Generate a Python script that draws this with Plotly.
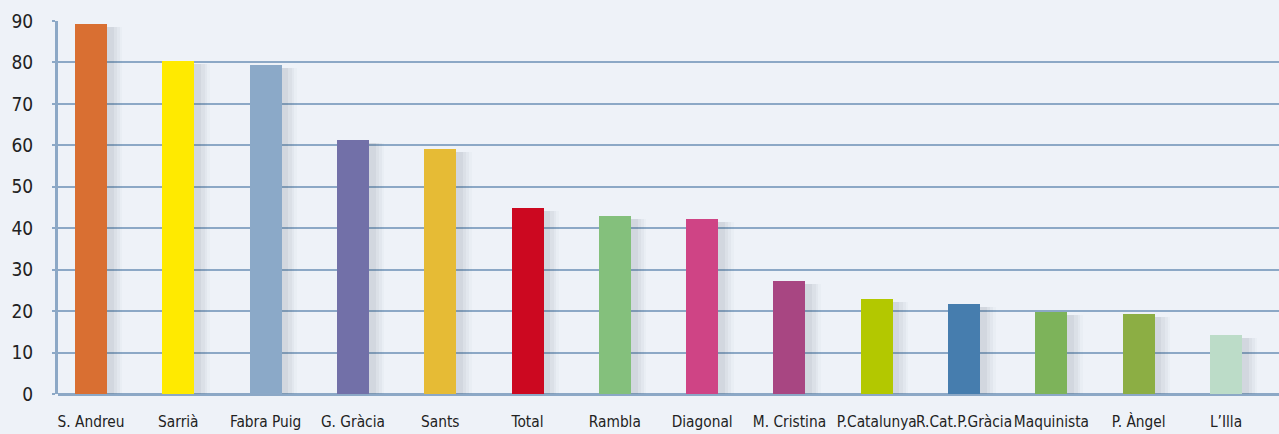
import plotly.graph_objects as go

# Percentages by shopping area
categories = ["S. Andreu", "Sarrià", "Fabra Puig", "G. Gràcia", "Sants", "Total",
              "Rambla", "Diagonal", "M. Cristina", "P.Catalunya", "R.Cat.P.Gràcia",
              "Maquinista", "P. Àngel", "L’Illa"]
values = [89.3, 80.4, 79.4, 61.3, 59.1, 44.9, 43.0, 42.2, 27.3, 22.9, 21.7, 19.8, 19.3, 14.2]
colors = ["#d96f32", "#ffea00", "#8ba9c8", "#7270a8", "#e6bb35", "#cc0820",
          "#84c07c", "#cf4485", "#a84682", "#b3c800", "#467dae", "#7db35a",
          "#8cae44", "#bcdcc8"]
y_ticks = [0, 10, 20, 30, 40, 50, 60, 70, 80, 90]

BG = "#eef2f8"
GRID = "#8ca8c6"
FONT = "DejaVu Sans Condensed, DejaVu Sans, sans-serif"

xpos = list(range(len(categories)))
fig = go.Figure()

# soft drop shadow: stacked translucent bars, offset right and down
for dx, w, a in [(0.10, 0.52, 0.025), (0.09, 0.48, 0.035), (0.08, 0.44, 0.045), (0.06, 0.40, 0.055)]:
    fig.add_trace(go.Bar(
        x=[p + dx for p in xpos], y=[v + 1.5 for v in values], base=[-2.2] * len(values),
        width=w, marker=dict(color=f"rgba(60,70,90,{a})", line=dict(width=0)),
        hoverinfo="skip", showlegend=False))

fig.add_trace(go.Bar(
    x=xpos, y=values, width=0.367,
    marker=dict(color=colors, line=dict(width=0)),
    showlegend=False))

fig.update_layout(
    width=1279, height=434,
    margin=dict(l=58, r=0, t=21, b=40),
    paper_bgcolor=BG, plot_bgcolor=BG,
    barmode="overlay", bargap=0,
    font=dict(family=FONT, color="#222222"),
    xaxis=dict(
        range=[-0.378, 13.607], tickmode="array", tickvals=xpos, ticktext=categories,
        tickangle=0, automargin=False,
        showgrid=False, zeroline=False, showline=False, ticks="",
        tickfont=dict(size=15.3, family=FONT, color="#222222"),
        ticklabelstandoff=17),
    yaxis=dict(
        range=[0, 90], tickmode="array", tickvals=y_ticks, automargin=False,
        showgrid=True, gridcolor=GRID, gridwidth=2,
        zeroline=True, zerolinecolor=GRID, zerolinewidth=3,
        showline=True, linecolor=GRID, linewidth=3, mirror=False,
        ticks="outside", ticklen=3, tickcolor=GRID, tickwidth=2,
        tickfont=dict(size=19, family=FONT, color="#222222"),
        ticklabelstandoff=15),
)

fig.write_html("out.html")
